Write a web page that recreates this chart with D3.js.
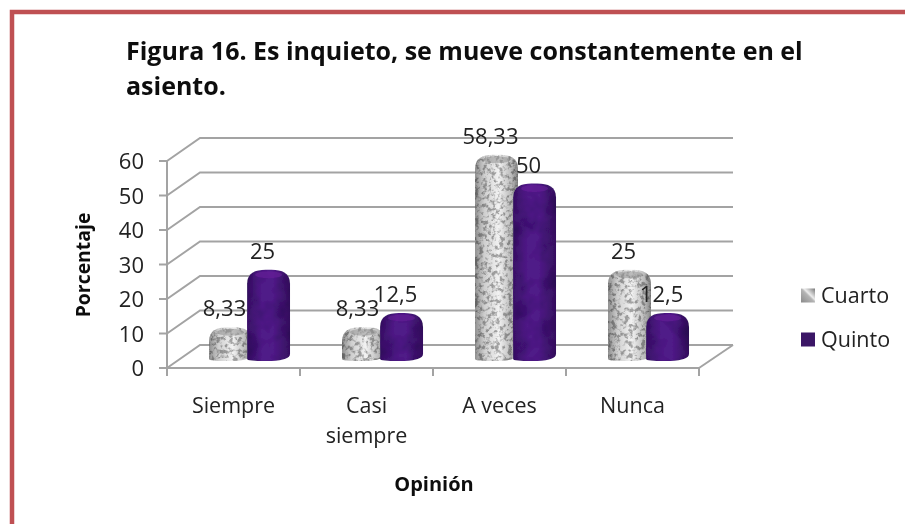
<!DOCTYPE html>
<html><head><meta charset="utf-8">
<script src="https://cdn.jsdelivr.net/npm/d3@7"></script>
<style>html,body{margin:0;padding:0;background:#fff}svg{display:block}text{font-family:"Open Sans",sans-serif;fill:#222}</style>
</head><body><div id="c"></div>
<script>
const categories=[["Siempre"],["Casi","siempre"],["A veces"],["Nunca"]];
const catKeys=["Siempre","Casi siempre","A veces","Nunca"];
const cuarto=[8.33,8.33,58.33,25];
const quinto=[25,12.5,50,12.5];
const cuartoLabels=["8,33","8,33","58,33","25"];
const quintoLabels=["25","12,5","50","12,5"];
const yTicks=[0,10,20,30,40,50,60];
const legendNames=["Cuarto","Quinto"];
const titleLines=["Figura 16. Es inquieto, se mueve constantemente en el","asiento."];
const W=905,H=524;
const svg=d3.select("#c").append("svg").attr("width",W).attr("height",H);
const defs=svg.append("defs");
defs.append("filter").attr("id","soft").attr("x",0).attr("y",0).attr("width","100%").attr("height","100%")
  .append("feGaussianBlur").attr("stdDeviation",0.6);
function noise(id,freq,seed,matrix){
  const f=defs.append("filter").attr("id",id).attr("x",0).attr("y",0).attr("width","100%").attr("height","100%");
  f.append("feTurbulence").attr("type","fractalNoise").attr("baseFrequency",freq).attr("numOctaves",3).attr("seed",seed).attr("result","n");
  f.append("feColorMatrix").attr("in","n").attr("type","matrix").attr("values",matrix).attr("result","m");
  f.append("feComposite").attr("in","m").attr("in2","SourceAlpha").attr("operator","in").attr("result","c");
  f.append("feBlend").attr("in","c").attr("in2","SourceGraphic").attr("mode","multiply");
}
noise("granite",0.24,4,"0 0 0 0 .42  0 0 0 0 .42  0 0 0 0 .42  4.5 0 0 0 -2.05");
noise("velvet",0.05,9,"0 0 0 0 .6  0 0 0 0 .5  0 0 0 0 .7  2.5 0 0 0 -1");
const grad=(id,stops)=>{const g=defs.append("linearGradient").attr("id",id);stops.forEach(s=>g.append("stop").attr("offset",s[0]).attr("stop-color",s[1]));};
grad("gG",[[0,"#8f8f8f"],[.22,"#cfcfcf"],[.55,"#f2f2f2"],[.85,"#bababa"],[1,"#858585"]]);
grad("gP",[[0,"#3a1168"],[.35,"#501a88"],[.6,"#501a88"],[1,"#35105f"]]);
const lg=defs.append("linearGradient").attr("id","lgG").attr("x1",0).attr("y1",1).attr("x2",1).attr("y2",0);
[[0,"#8a8a8a"],[.5,"#b4b4b4"],[.6,"#ececec"],[1,"#777"]].forEach(s=>lg.append("stop").attr("offset",s[0]).attr("stop-color",s[1]));

svg.append("path").attr("d","M12,524V12H905").attr("fill","none").attr("stroke","#bf5053").attr("stroke-width",4.5);

const root=svg.append("g").attr("filter","url(#soft)");
const y=d3.scaleLinear().domain([0,60]).range([368,161]);
const x0=d3.scaleBand().domain(catKeys).range([167,699]);
const dx=33,dy=-23;
const xL=x0.range()[0],xR=x0.range()[1];
const walls=root.append("g").attr("stroke","#a3a3a3").attr("stroke-width",2).attr("fill","none");
yTicks.forEach(t=>{
  const yy=y(t);
  walls.append("path").attr("d",d3.line()([[xL,yy],[xL+dx,yy+dy],[xR+dx+1,yy+dy]]));
  walls.append("line").attr("x1",xL-8).attr("x2",xL).attr("y1",yy).attr("y2",yy);
});
walls.append("line").attr("x1",xL).attr("x2",xL).attr("y1",y(60)).attr("y2",376);
walls.append("line").attr("x1",xL).attr("x2",xR).attr("y1",y(0)).attr("y2",y(0));
walls.append("line").attr("x1",xR).attr("x2",xR+dx+1).attr("y1",y(0)).attr("y2",y(0)+dy);
catKeys.concat(["end"]).forEach((c,i)=>{
  const xx=i<4?x0(c):xR;
  walls.append("line").attr("x1",xx).attr("x2",xx).attr("y1",y(0)).attr("y2",376);
});
root.append("g").selectAll("text").data(yTicks).join("text").attr("x",144).attr("y",d=>y(d)+8)
  .attr("text-anchor","end").attr("font-size",22).text(d=>d);
const catG=root.append("g").selectAll("text").data(categories).join("text")
  .attr("x",(d,i)=>x0(catKeys[i])+x0.bandwidth()/2).attr("y",413).attr("text-anchor","middle").attr("font-size",21.5);
catG.selectAll("tspan").data(d=>d).join("tspan").attr("x",function(){return d3.select(this.parentNode).attr("x");}).attr("dy",(d,i)=>i?30:0).text(d=>d);

const by=v=>y(v)-12;
const barW=x0.bandwidth()*0.323;
const off1=x0.bandwidth()*0.316, off2=x0.bandwidth()*0.602;
function barPath(x,w,v){
  const t=by(v),b=by(0)+5,r=w/2-3,ry=Math.min(14,(b-t)*0.55);
  return `M${x},${b-2}L${x},${t+ry}C${x},${t+3} ${x+8},${t} ${x+r},${t}L${x+w-r},${t}C${x+w-8},${t} ${x+w},${t+3} ${x+w},${t+ry}L${x+w},${b-7}Q${x+w},${b-1} ${x+w-r},${b}L${x+r},${b}Q${x},${b} ${x},${b-2}Z`;
}
const bars=root.append("g");
const series=[{v:cuarto,o:off1,f:"url(#gG)",fl:"url(#granite)",cap:"#8f8f8f"},{v:quinto,o:off2,f:"url(#gP)",fl:"url(#velvet)",cap:"#6b1f9c"}];
series.forEach(s=>{
  const g=bars.append("g");
  g.selectAll("path").data(s.v).join("path")
    .attr("d",(d,i)=>barPath(x0(catKeys[i])+s.o,barW,d))
    .attr("fill",s.f).attr("filter",s.fl);
  g.selectAll("ellipse").data(s.v).join("ellipse")
    .attr("cx",(d,i)=>x0(catKeys[i])+s.o+barW/2).attr("cy",d=>by(d)+5)
    .attr("rx",barW/2-8).attr("ry",3.5).attr("fill",s.cap).attr("opacity",.55);
});
const labels=root.append("g").attr("font-size",22).attr("text-anchor","middle");
[{v:cuarto,o:off1,l:cuartoLabels},{v:quinto,o:off2,l:quintoLabels}].forEach(s=>{
  labels.append("g").selectAll("text").data(s.v).join("text")
    .attr("x",(d,i)=>x0(catKeys[i])+s.o+barW/2-6)
    .attr("y",d=>by(d)-11).text((d,i)=>s.l[i]);
});
root.append("text").attr("transform","translate(90,265) rotate(-90)").attr("text-anchor","middle").attr("font-size",19.4).attr("font-weight",700).style("fill","#111").text("Porcentaje");
root.append("text").attr("x",434).attr("y",491).attr("text-anchor","middle").attr("font-size",20).attr("font-weight",700).style("fill","#111").text("Opinión");
root.append("g").selectAll("text").data(titleLines).join("text").attr("x",126).attr("y",(d,i)=>60+i*35)
  .attr("font-size",25).attr("font-weight",700).style("fill","#111").text(d=>d);
const lg2=root.append("g");
legendNames.forEach((n,i)=>{
  const ly=295.5+i*44;
  lg2.append("rect").attr("x",801).attr("y",ly-7).attr("width",14).attr("height",14).attr("fill",i?"#3a1266":"url(#lgG)");
  lg2.append("text").attr("x",821).attr("y",ly+7).attr("font-size",21.5).text(n);
});
</script></body></html>
